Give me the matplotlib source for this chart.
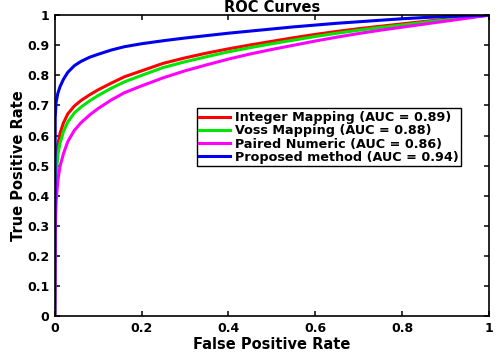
import matplotlib
matplotlib.use('Agg')
from matplotlib import pyplot as plt

# values
fpr = [0, 0.001, 0.003, 0.007, 0.012, 0.02, 0.03, 0.045, 0.06, 0.08, 0.1, 0.13,
       0.16, 0.2, 0.25, 0.3, 0.35, 0.4, 0.45, 0.5, 0.55, 0.6, 0.65, 0.7, 0.75,
       0.8, 0.85, 0.9, 0.95, 1.0]

tpr_integer = [0, 0.40, 0.50, 0.57, 0.607, 0.642, 0.672, 0.698, 0.716, 0.735, 0.752, 0.774,
               0.795, 0.815, 0.84, 0.858, 0.874, 0.888, 0.901, 0.913, 0.925, 0.936, 0.946,
               0.955, 0.963, 0.971, 0.979, 0.986, 0.993, 1.0]
tpr_voss = [0, 0.36, 0.46, 0.535, 0.574, 0.613, 0.645, 0.675, 0.694, 0.715, 0.733, 0.757,
            0.778, 0.80, 0.826, 0.845, 0.862, 0.878, 0.892, 0.905, 0.917, 0.929, 0.94,
            0.95, 0.959, 0.967, 0.976, 0.984, 0.992, 1.0]
tpr_paired = [0, 0.28, 0.38, 0.45, 0.497, 0.54, 0.58, 0.617, 0.642, 0.668, 0.69, 0.718,
              0.742, 0.765, 0.792, 0.815, 0.835, 0.854, 0.871, 0.886, 0.90, 0.914, 0.927,
              0.939, 0.95, 0.96, 0.97, 0.98, 0.99, 1.0]
tpr_proposed = [0, 0.66, 0.71, 0.74, 0.762, 0.787, 0.81, 0.832, 0.846, 0.86, 0.87, 0.884,
                0.895, 0.905, 0.915, 0.924, 0.932, 0.94, 0.947, 0.954, 0.961, 0.967, 0.973,
                0.978, 0.983, 0.988, 0.992, 0.995, 0.998, 1.0]

labels = ['Integer Mapping (AUC = 0.89)', 'Voss Mapping (AUC = 0.88)',
          'Paired Numeric (AUC = 0.86)', 'Proposed method (AUC = 0.94)']
colors = ['#ff0000', '#00e600', '#ff00ff', '#0000ee']

xticks = [0, 0.2, 0.4, 0.6, 0.8, 1]
yticks = [0, 0.1, 0.2, 0.3, 0.4, 0.5, 0.6, 0.7, 0.8, 0.9, 1]

plt.rcParams['font.family'] = ['DejaVu Sans']
plt.rcParams['font.weight'] = 'bold'

fig = plt.figure(figsize=(4.98, 3.52), dpi=100)
ax = fig.add_axes([0.110, 0.102, 0.872, 0.855])

series = [tpr_integer, tpr_voss, tpr_paired, tpr_proposed]
for tpr, lab, col in zip(series, labels, colors):
    ax.plot(fpr, tpr, color=col, lw=2.2, label=lab, solid_joinstyle='round')

ax.set_xlim(0, 1)
ax.set_ylim(0, 1)
ax.set_xticks(xticks)
ax.set_xticklabels([f'{t:g}' for t in xticks])
ax.set_yticks(yticks)
ax.set_yticklabels([f'{t:g}' for t in yticks])
ax.tick_params(direction='in', length=3.5, width=1.1, top=True, right=True,
               labelsize=9, pad=4)
for lbl in ax.get_xticklabels() + ax.get_yticklabels():
    lbl.set_fontweight('bold')
for sp in ax.spines.values():
    sp.set_linewidth(1.2)

ax.set_title('ROC Curves', fontsize=10.5, fontweight='bold', pad=2)
ax.set_xlabel('False Positive Rate', fontsize=10.5, fontweight='bold', labelpad=2)
ax.set_ylabel('True Positive Rate', fontsize=10.5, fontweight='bold', labelpad=1)

leg = ax.legend(loc='upper left', bbox_to_anchor=(0.327, 0.69), fontsize=9.2,
                frameon=True, fancybox=False, edgecolor='black', framealpha=1,
                borderpad=0.2, labelspacing=0.02, handlelength=2.4,
                handletextpad=0.4, borderaxespad=0)
leg.get_frame().set_linewidth(1.0)
for t in leg.get_texts():
    t.set_fontweight('bold')

fig.savefig('out.png', dpi=100)
